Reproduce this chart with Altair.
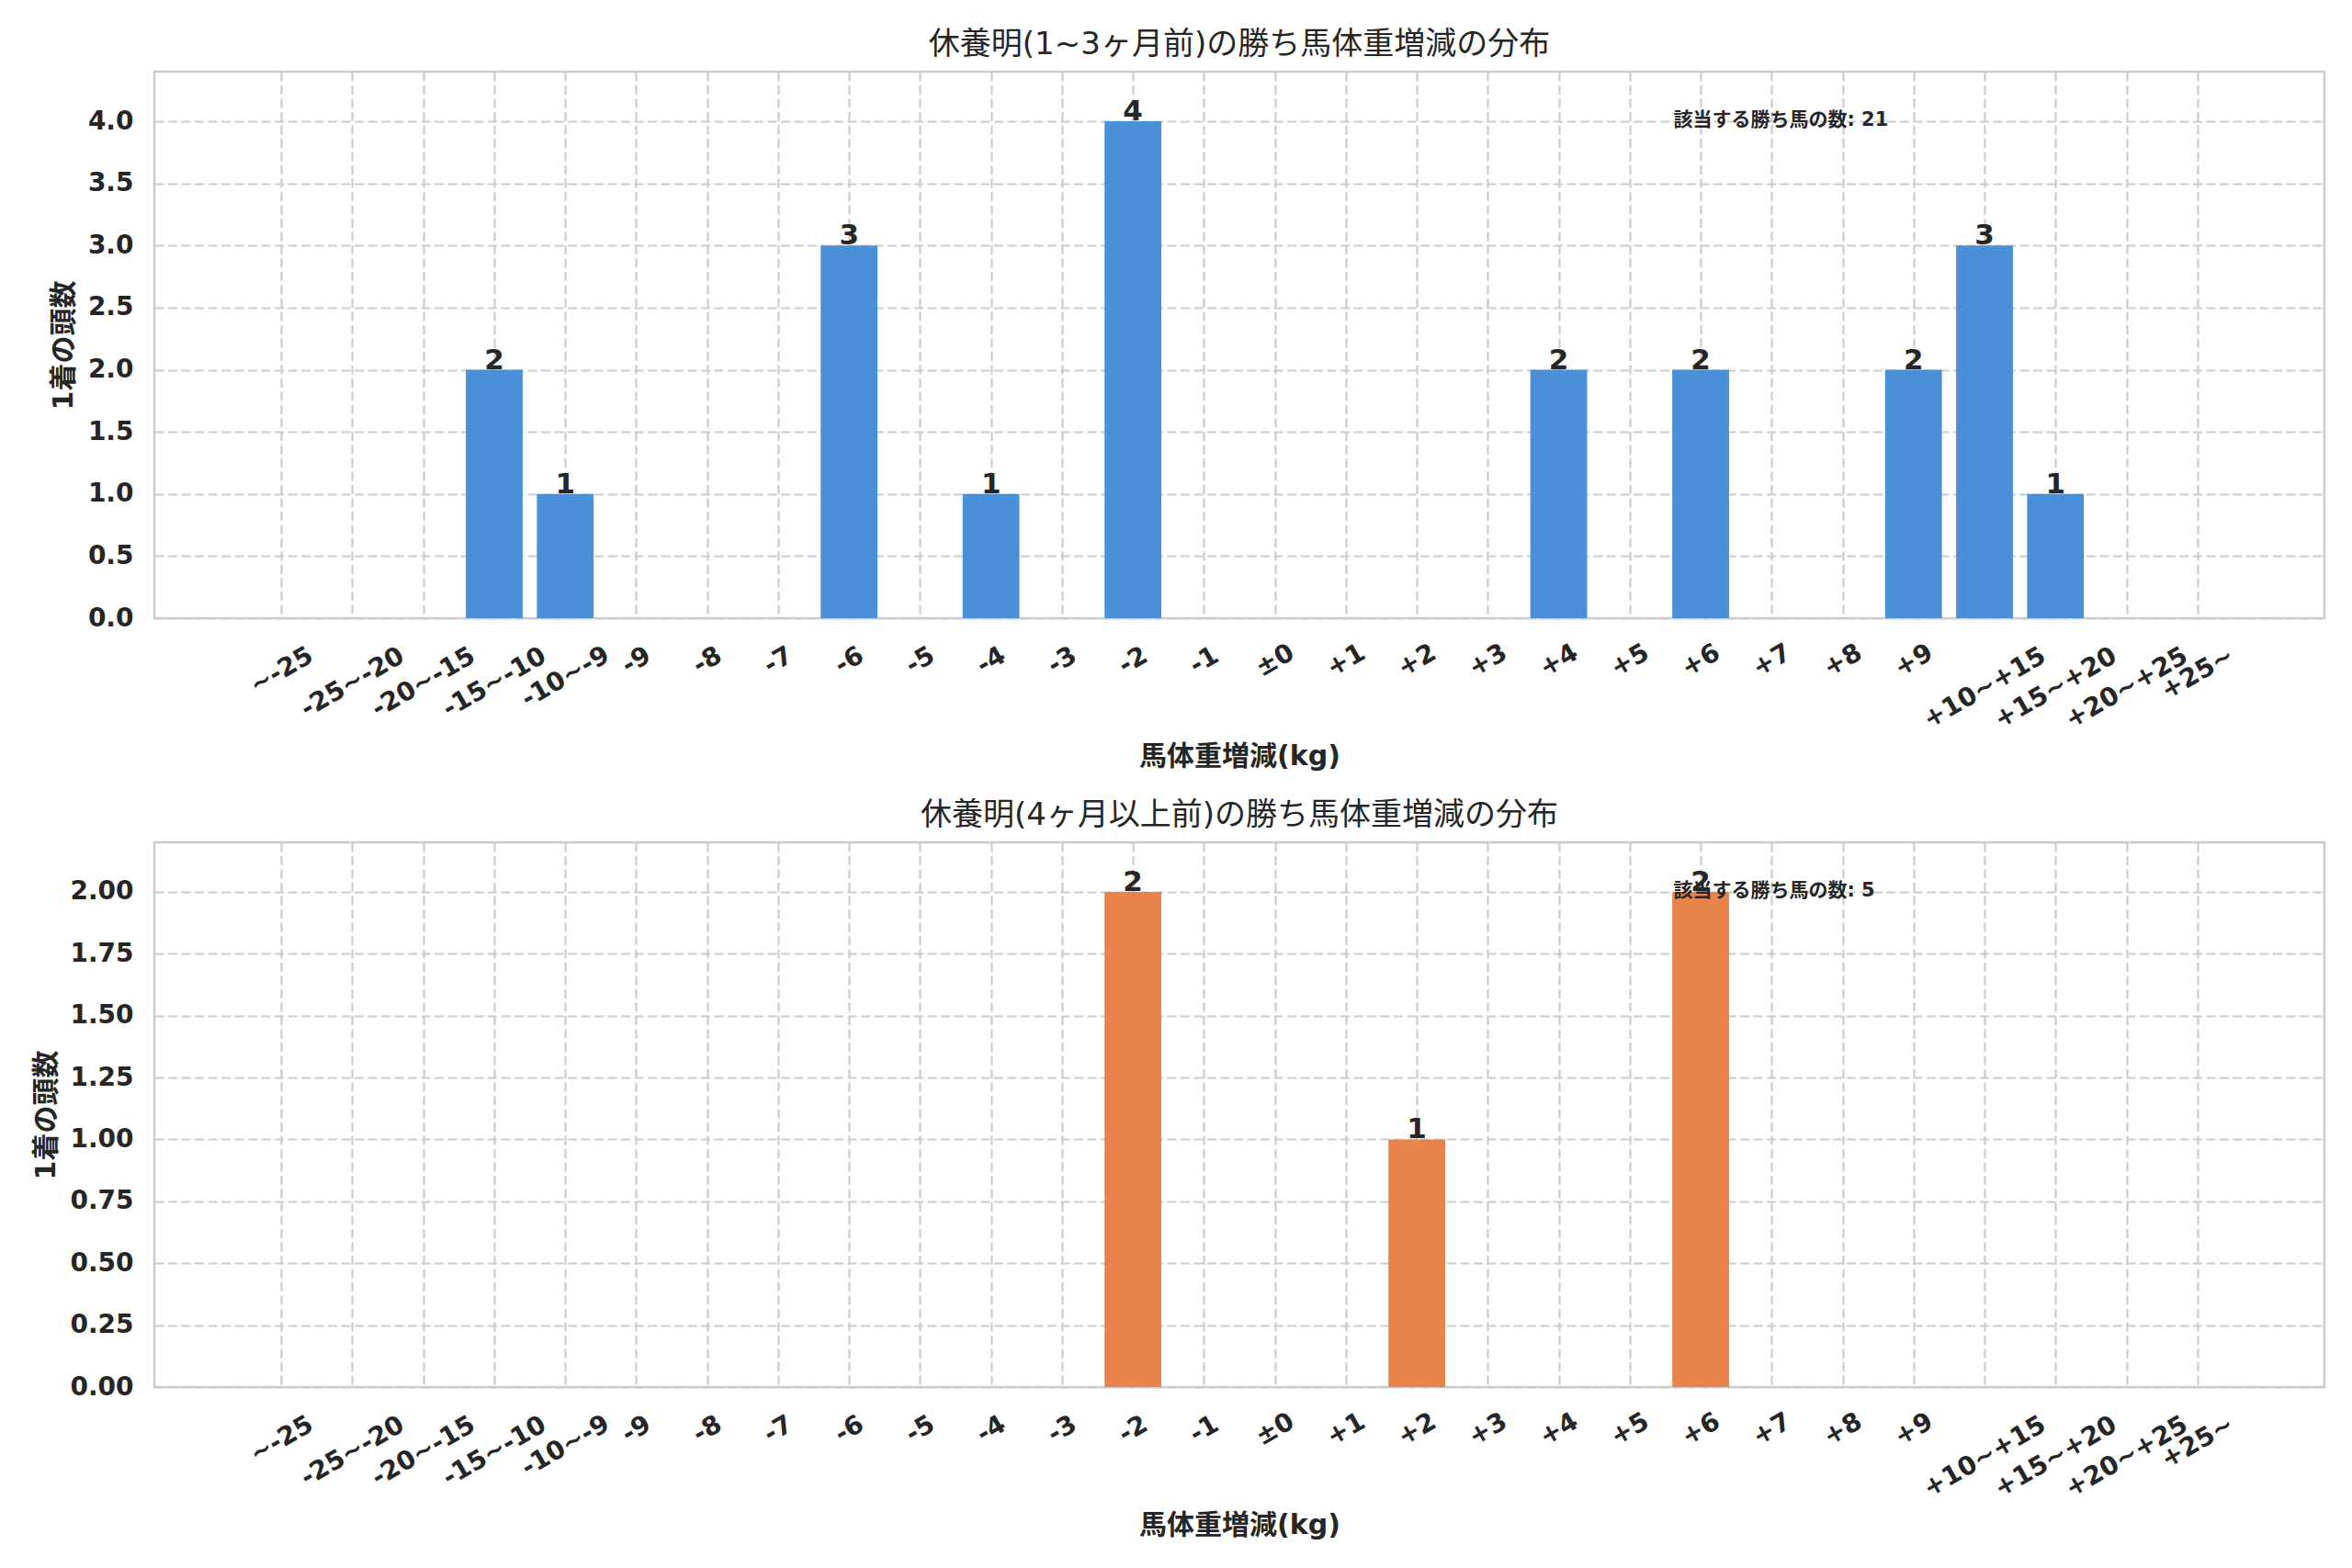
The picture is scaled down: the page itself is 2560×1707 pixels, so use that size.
import altair as alt
import pandas as pd

categories = ["~-25", "-25~-20", "-20~-15", "-15~-10", "-10~-9", "-9", "-8", "-7", "-6", "-5",
              "-4", "-3", "-2", "-1", "±0", "+1", "+2", "+3", "+4", "+5", "+6", "+7", "+8", "+9",
              "+10~+15", "+15~+20", "+20~+25", "+25~"]
counts_short = [0, 0, 0, 2, 1, 0, 0, 0, 3, 0, 1, 0, 4, 0, 0, 0, 0, 0, 2, 0, 2, 0, 0, 2, 3, 1, 0, 0]
counts_long = [0, 0, 0, 0, 0, 0, 0, 0, 0, 0, 0, 0, 2, 0, 0, 0, 1, 0, 0, 0, 2, 0, 0, 0, 0, 0, 0, 0]

title_short = "休養明(1~3ヶ月前)の勝ち馬体重増減の分布"
title_long = "休養明(4ヶ月以上前)の勝ち馬体重増減の分布"
x_title = "馬体重増減(kg)"
y_title = "1着の頭数"
note_label = "該当する勝ち馬の数"
total_short = 21
total_long = 5

FONT = "DejaVu Sans, Noto Sans CJK JP, sans-serif"
TXT = "#262626"
GRID = "#cccccc"
W = 2362
BAR_HALF = 0.4
X_DOMAIN = [-1.79, len(categories) - 1 + 1.79]

cat_js = "[" + ",".join("'" + c + "'" for c in categories) + "]"

label_pad = {
    "condition": [
        {"test": "datum.value >= 24 && datum.value <= 26", "value": 76},
        {"test": "datum.value >= 1 && datum.value <= 3", "value": 70},
        {"test": "datum.value == 4", "value": 64},
        {"test": "datum.value == 27", "value": 60},
        {"test": "datum.value == 0", "value": 57},
    ],
    "value": 46,
}


def panel(values, color, title, ymax, yvals, yfmt, total, height, ytitle_x):
    df = pd.DataFrame({"cat": categories, "idx": list(range(len(categories))), "n": values})
    xscale = alt.Scale(domain=X_DOMAIN, nice=False, zero=False)
    xenc = alt.X(
        "x0:Q",
        scale=xscale,
        axis=alt.Axis(
            title=x_title, titleFont=FONT, titleFontSize=30, titleFontWeight="bold",
            titleColor=TXT, titleX=W / 2, titleY=150, titleBaseline="middle",
            values=list(range(len(categories))),
            labelExpr=cat_js + "[datum.value]",
            labelAngle=330, labelAlign="center", labelBaseline="middle",
            labelPadding=label_pad, labelFont=FONT, labelFontSize=28,
            labelFontWeight="bold", labelColor=TXT, labelOverlap=False,
            labelFlush=False, labelBound=False,
            ticks=False, domain=False,
            grid=True, gridColor=GRID, gridDash=[10, 4.5], gridWidth=2.2,
        ),
    )
    yenc = alt.Y(
        "n:Q",
        scale=alt.Scale(domain=[0, ymax], nice=False, zero=True),
        axis=alt.Axis(
            title=y_title, titleFont=FONT, titleFontSize=30, titleFontWeight="bold",
            titleColor=TXT, titleX=ytitle_x, titleY=height / 2, titleBaseline="middle",
            titleAlign="center", titleAngle=270,
            values=yvals, format=yfmt, labelFont=FONT, labelFontSize=28,
            labelFontWeight="bold", labelColor=TXT, labelPadding=23,
            ticks=False, domain=False,
            grid=True, gridColor=GRID, gridDash=[10, 4.5], gridWidth=2.2,
        ),
    )
    base = alt.Chart(df).transform_calculate(
        x0=f"datum.idx - {BAR_HALF}", x1=f"datum.idx + {BAR_HALF}"
    )
    bars = base.transform_filter("datum.n > 0").mark_bar(color=color).encode(
        x=xenc, x2="x1:Q", y=yenc, y2=alt.datum(0)
    )
    labels = base.transform_filter("datum.n > 0").mark_text(
        font=FONT, fontSize=31, fontWeight="bold", color=TXT, baseline="alphabetic", dy=-1
    ).encode(x=alt.X("idx:Q", scale=xscale), y="n:Q", text="n:Q")
    note_df = pd.DataFrame({"t": [f"{note_label}: {total}"]})
    note = alt.Chart(note_df).mark_text(
        font=FONT, fontSize=21, fontWeight="bold", color=TXT, align="left", baseline="middle"
    ).encode(x=alt.value(0.70 * W), y=alt.value(53), text="t:N")
    return alt.layer(bars, labels, note).properties(
        width=W, height=height,
        title=alt.TitleParams(title, font=FONT, fontSize=34, fontWeight="normal",
                              color=TXT, offset=12, anchor="middle"),
    )


top = panel(counts_short, "#4a90d9", title_short, 4.4,
            [0, 0.5, 1.0, 1.5, 2.0, 2.5, 3.0, 3.5, 4.0], ".1f", total_short, 595, -98.7)
bottom = panel(counts_long, "#e8834a", title_long, 2.2,
               [0, 0.25, 0.5, 0.75, 1.0, 1.25, 1.5, 1.75, 2.0], ".2f", total_long, 593, -117.7)

chart = alt.vconcat(top, bottom, spacing=29).configure(
    padding={"left": 26, "top": 22, "right": 20, "bottom": 10},
    background="white",
).configure_view(stroke=GRID, strokeWidth=2.5)

chart.save("out.html", embed_options={"renderer": "svg", "actions": False})
